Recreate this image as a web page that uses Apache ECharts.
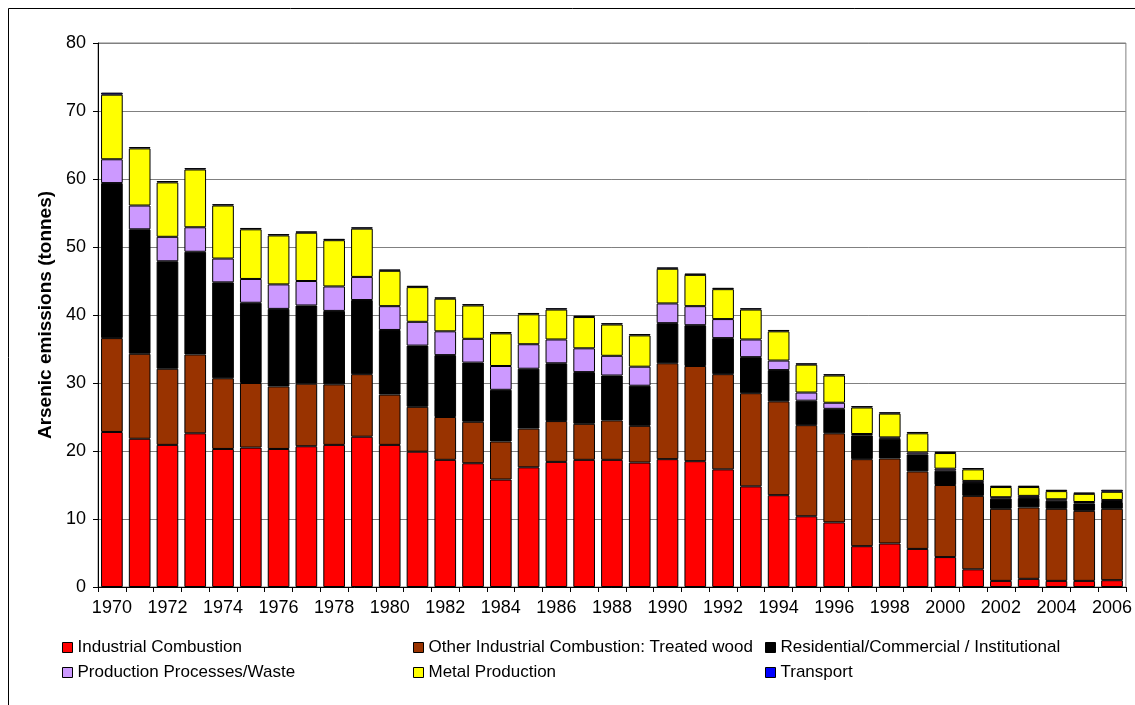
<!DOCTYPE html>
<html>
<head>
<meta charset="utf-8">
<script src="https://cdn.jsdelivr.net/npm/echarts@6/dist/echarts.min.js"></script>
<style>
  html, body { margin: 0; padding: 0; background: #fff; }
  #chart { width: 1135px; height: 705px; }
</style>
</head>
<body>
<div id="chart"></div>
<script>
// years 1970-2006
const years = [];
for (let y = 1970; y <= 2006; y++) years.push(String(y));

// arsenic emissions by source (tonnes)
const industrial = [22.8, 21.8, 20.9, 22.6, 20.3, 20.5, 20.3, 20.7, 20.9, 22.1,
  20.9, 19.9, 18.7, 18.2, 15.8, 17.6, 18.4, 18.7, 18.7, 18.3,
  18.8, 18.5, 17.3, 14.8, 13.5, 10.4, 9.5, 6.0, 6.4, 5.6,
  4.4, 2.6, 0.9, 1.2, 0.9, 0.9, 1.0];
const treatedWood = [13.8, 12.5, 11.2, 11.6, 10.4, 9.5, 9.2, 9.2, 8.9, 9.2,
  7.4, 6.6, 6.3, 6.1, 5.6, 5.7, 6.0, 5.3, 5.8, 5.4,
  14.1, 14.0, 14.0, 13.7, 13.8, 13.4, 13.1, 12.8, 12.5, 11.4,
  10.6, 10.8, 10.6, 10.5, 10.6, 10.3, 10.5];
const residential = [22.8, 18.3, 15.8, 15.1, 14.1, 11.8, 11.4, 11.5, 10.8, 10.9,
  9.5, 9.0, 9.1, 8.7, 7.6, 8.8, 8.5, 7.6, 6.6, 5.9,
  5.9, 6.0, 5.3, 5.3, 4.6, 3.6, 3.6, 3.5, 2.9, 2.5,
  2.1, 1.9, 1.5, 1.4, 1.2, 1.1, 1.0];
const production = [3.5, 3.5, 3.6, 3.6, 3.5, 3.5, 3.6, 3.6, 3.6, 3.4,
  3.5, 3.5, 3.5, 3.5, 3.5, 3.6, 3.5, 3.5, 2.9, 2.8,
  2.9, 2.8, 2.8, 2.6, 1.4, 1.2, 0.9, 0.2, 0.2, 0.3,
  0.3, 0.3, 0.2, 0.3, 0.2, 0.2, 0.3];
const metal = [9.5, 8.4, 8.0, 8.5, 7.8, 7.3, 7.2, 7.1, 6.8, 7.1,
  5.2, 5.1, 4.8, 4.9, 4.8, 4.4, 4.4, 4.6, 4.6, 4.6,
  5.1, 4.6, 4.4, 4.4, 4.3, 4.1, 4.0, 3.9, 3.5, 2.8,
  2.3, 1.7, 1.5, 1.3, 1.2, 1.2, 1.2];
const transport = [0.3, 0.2, 0.2, 0.2, 0.2, 0.2, 0.2, 0.2, 0.2, 0.2,
  0.2, 0.2, 0.2, 0.2, 0.2, 0.2, 0.2, 0.2, 0.2, 0.2,
  0.2, 0.2, 0.2, 0.2, 0.2, 0.2, 0.2, 0.2, 0.2, 0.2,
  0.2, 0.2, 0.2, 0.2, 0.2, 0.2, 0.3];

const seriesDefs = [
  { name: 'Industrial Combustion', data: industrial, color: '#FF0000' },
  { name: 'Other Industrial Combustion: Treated wood', data: treatedWood, color: '#993300' },
  { name: 'Residential/Commercial / Institutional', data: residential, color: '#000000' },
  { name: 'Production Processes/Waste', data: production, color: '#CC99FF' },
  { name: 'Metal Production', data: metal, color: '#FFFF00' },
  { name: 'Transport', data: transport, color: '#0000FF' }
];

const font = 'Liberation Sans, Arial, sans-serif';

const chart = echarts.init(document.getElementById('chart'));

const legendBase = {
  orient: 'vertical',
  top: 634,
  itemGap: 8,
  itemWidth: 10,
  itemHeight: 10,
  icon: 'rect',
  selectedMode: false,
  textStyle: { fontFamily: font, fontSize: 17, color: '#000' },
  itemStyle: { borderColor: '#000', borderWidth: 1 }
};

chart.setOption({
  animation: false,
  graphic: [{
    type: 'rect',
    shape: { x: 8.5, y: 8.5, width: 1200, height: 800 },
    style: { fill: 'none', stroke: '#000', lineWidth: 1 },
    silent: true
  }],
  legend: [
    Object.assign({}, legendBase, { left: 57, data: ['Industrial Combustion', 'Production Processes/Waste'] }),
    Object.assign({}, legendBase, { left: 408, data: ['Other Industrial Combustion: Treated wood', 'Metal Production'] }),
    Object.assign({}, legendBase, { left: 760, data: ['Residential/Commercial / Institutional', 'Transport'] })
  ],
  grid: { left: 98, right: 8, top: 43, bottom: 118, containLabel: false,
    show: true, borderColor: '#808080', borderWidth: 1 },
  xAxis: {
    type: 'category',
    data: years,
    axisLine: { lineStyle: { color: '#000', width: 1 } },
    axisTick: { show: true, interval: 0, length: 5, lineStyle: { color: '#000' } },
    axisLabel: { interval: 1, fontFamily: font, fontSize: 18, color: '#000', margin: 12 }
  },
  yAxis: {
    type: 'value',
    min: 0, max: 80, interval: 10,
    name: 'Arsenic emissions (tonnes)',
    nameLocation: 'middle',
    nameGap: 42,
    nameTextStyle: { fontFamily: font, fontSize: 19, fontWeight: 'bold', color: '#000' },
    axisLine: { show: true, lineStyle: { color: '#000', width: 1 } },
    axisTick: { show: true, length: 5, lineStyle: { color: '#000' } },
    axisLabel: { fontFamily: font, fontSize: 18, color: '#000', margin: 12 },
    splitLine: { lineStyle: { color: '#808080', width: 1 } }
  },
  series: seriesDefs.map(s => ({
    name: s.name,
    type: 'bar',
    stack: 'total',
    barCategoryGap: '22%',
    data: s.data,
    itemStyle: { color: s.color, borderColor: '#000', borderWidth: 1 }
  }))
});
</script>
</body>
</html>
